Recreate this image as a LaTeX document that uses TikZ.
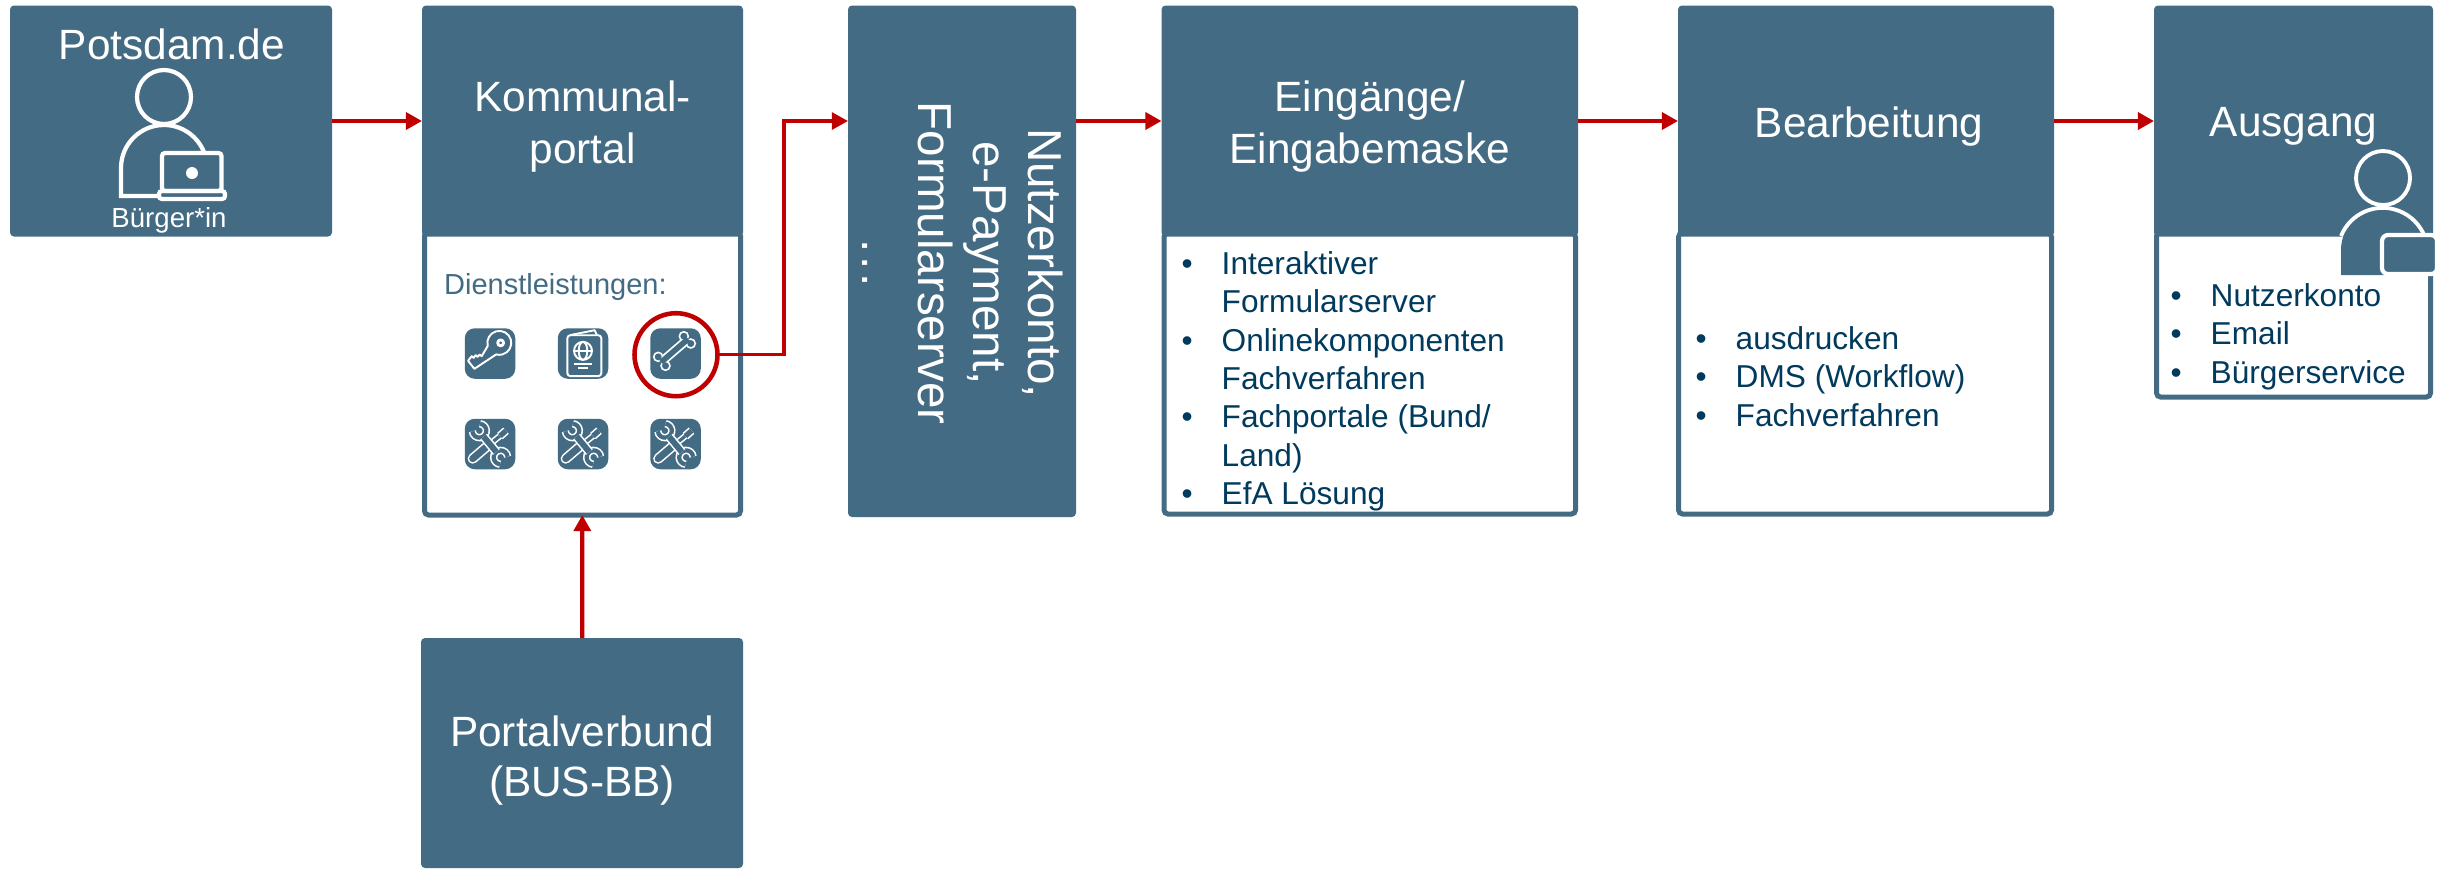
\documentclass[tikz,border=0pt]{standalone}
\usepackage{fontspec}
\setmainfont{Liberation Sans}
\usetikzlibrary{arrows.meta}
\definecolor{boxblue}{HTML}{446B84}
\definecolor{listblue}{HTML}{003A5D}
\definecolor{arrowred}{HTML}{C00000}
\newcommand{\headfont}{\fontsize{12.05}{14.8}\selectfont}
\newcommand{\sidefont}{\fontsize{13.55}{15.75}\selectfont}
\newcommand{\listfont}{\fontsize{9}{10.9}\selectfont}
\newcommand{\li}[1]{\makebox[.40cm][l]{\textbullet}#1\\}
\newcommand{\lic}[1]{\hspace*{.40cm}#1\\}
\begin{document}
\begin{tikzpicture}
        \tikzset{
            head/.style={fill=boxblue, rounded corners=.4mm,
              anchor=north west, inner sep=0pt, outer sep=0pt},
            headtext/.style={text=white, font=\headfont, align=center, inner sep=0pt, yshift=-.055cm},
            body/.style={draw=boxblue, fill=white, line width=1.42pt, rounded corners=.4mm,
              anchor=north west, inner sep=0pt, outer sep=0pt},
            list/.style={text=listblue, font=\listfont, align=left, anchor=north west, inner sep=0pt},
            whitetext/.style={text=white, anchor=base, inner sep=0pt},
            flow/.style={draw=arrowred, line width=1.2pt, -{Triangle[length=4.6pt,width=4.8pt]}},
            iconbox/.style={fill=boxblue, rounded corners=1mm, minimum size=.505cm, inner sep=0pt},
            person/.style={draw=white, line width=1.2pt},
            iconline/.style={draw=white, line width=.55pt, line join=round},
            pics/keyicon/.style={code={
              \draw[iconline] (-6.8,22.7) arc (195:-105:36) -- (-47,-46) -- (-66,-22) -- (-55,-8)
                -- (-49,-13) -- (-43,-5) -- (-37,-10) -- (-31,-3) -- (-25,-8) -- cycle;
              \draw[iconline, line width=.8pt] (32,32) circle (9);
            }},
            pics/passicon/.style={code={
              \draw[iconline, rounded corners=.3mm] (-47,55) rectangle (55,-68);
              \draw[iconline] (-40,55) -- (35,70) -- (42,55);
              \draw[iconline] (0,8) circle (27);
              \draw[iconline] (0,8) ellipse (13 and 27);
              \draw[iconline] (-27,8) -- (27,8);
              \draw[iconline] (-28,-32) -- (28,-32);
              \draw[iconline] (-15,-43) -- (15,-43);
            }},
            pics/boneicon/.style={code={
              \foreach \kx/\ky in {25/52,46/30,-52/-10,-30/-37}
                \fill[white] (\kx,\ky) circle (16);
              \draw[white, line width=2.6pt] (35,41) -- (-40,-23);
              \foreach \kx/\ky in {25/52,46/30,-52/-10,-30/-37}
                \fill[boxblue] (\kx,\ky) circle (10.5);
              \draw[boxblue, line width=1.6pt] (38,44) -- (-43,-26);
            }},
            pics/toolicon/.style={code={
              \begin{scope}[draw=white, line width=.45pt, double=boxblue]
              \draw[double distance=2pt, line cap=round] (-52,-44) -- (-10,-8);
              \draw[double distance=.9pt] (-10,-8) -- (32,26);
              \draw[double distance=1.5pt] (30,24) -- (48,40);
              \draw[double distance=1.2pt] (-32,40) ++(185:21) arc (185:445:21);
              \draw[double distance=1.2pt] (32,-40) ++(5:21) arc (5:265:21);
              \draw[double distance=1.7pt] (-19,22) -- (19,-24);
              \end{scope}
            }},
          }

        % Potsdam
        \node[head, minimum width=3.22cm, minimum height=2.31cm] (potsdam) at (.10,-.055) {};
        \node[whitetext, font=\headfont] (potsdamtext) at (1.72,-.595) {Potsdam.de};
        \draw[person] (1.64,-.97) circle (.27);
        \draw[person] (1.59,-1.96) -- (1.21,-1.96) -- (1.21,-1.68) arc (180:20:.43);
        \draw[person, rounded corners=.3mm] (1.62,-1.91) rectangle (2.215,-1.53);
        \draw[person, rounded corners=.3mm] (1.59,-1.91) rectangle (2.25,-1.99);
        \fill[white] (1.92,-1.73) circle (.06);
        \node[whitetext, font=\fontsize{7.85}{9}\selectfont] (buerger) at (1.69,-2.27) {Bürger*in};

        % Kommunalportal
        \node[body, minimum width=3.16cm, minimum height=2.83cm] (kommbody) at (4.245,-2.32) {};
        \node[head, minimum width=3.21cm, minimum height=2.31cm] (komm) at (4.22,-.055) {};
        \node[headtext] (kommtext) at (komm) {Kommunal-\\portal};
        \node[anchor=base west, inner sep=0pt, text=boxblue, font=\fontsize{8.25}{10}\selectfont] (dienst) at (4.435,-2.94) {Dienstleistungen:};
        \node[iconbox] (key) at (4.90,-3.535) {};
        \node[iconbox] (pass) at (5.83,-3.535) {};
        \node[iconbox] (bone) at (6.755,-3.535) {};
        \pic[scale=.00333] at (key.center) {keyicon};
        \pic[scale=.00333] at (pass.center) {passicon};
        \pic[scale=.00333] at (bone.center) {boneicon};
        \foreach \toolname/\toolx in {toola/4.90,toolb/5.83,toolc/6.755} {
            \node[iconbox] (\toolname) at (\toolx,-4.44) {};
            \pic[scale=.00333] at (\toolname.center) {toolicon};
        }
        \node[draw=arrowred, line width=1.3pt, circle, minimum size=.83cm, inner sep=0pt, outer sep=0pt] (ring) at (6.76,-3.547) {};

        % Portalverbund
        \node[head, minimum width=3.22cm, minimum height=2.30cm] (portal) at (4.21,-6.38) {};
        \node[whitetext, font=\headfont] (portaltext) at (5.82,-7.46) {Portalverbund};
        \node[whitetext, font=\headfont] (portaltextb) at (5.82,-7.96) {(BUS-BB)};

        % Nutzerkonto
        \node[head, minimum width=2.28cm, minimum height=5.115cm] (form) at (8.48,-.055) {};
        \node[rotate=-90, text=white, font=\sidefont, align=center, inner sep=0pt] (formtext) at (9.63,-2.63)
            {Nutzerkonto,\\e-Payment,\\Formularserver\\.\kern.08em.\kern.08em.};

        % Eingaenge
        \node[body, minimum width=4.115cm, minimum height=2.81cm] (eingbody) at (11.64,-2.33) {};
        \node[head, minimum width=4.165cm, minimum height=2.31cm] (eing) at (11.615,-.055) {};
        \node[headtext] (eingtext) at (eing) {Eingänge/\\Eingabemaske};
        \node[list] (einglist) at (11.81,-2.51) {\li{Interaktiver}\lic{Formularserver}\li{Onlinekomponenten}\lic{Fachverfahren}\li{Fachportale (Bund/}\lic{Land)}\li{EfA Lösung}};

        % Bearbeitung
        \node[body, minimum width=3.73cm, minimum height=2.81cm] (bearbbody) at (16.785,-2.33) {};
        \node[head, minimum width=3.76cm, minimum height=2.31cm] (bearb) at (16.78,-.055) {};
        \node[headtext, xshift=.03cm] (bearbtext) at (bearb) {Bearbeitung};
        \node[list] (bearblist) at (16.95,-3.26) {\li{ausdrucken}\li{DMS (Workflow)}\li{Fachverfahren}};

        % Ausgang
        \node[body, minimum width=2.74cm, minimum height=1.65cm] (ausbody) at (21.565,-2.32) {};
        \node[head, minimum width=2.79cm, minimum height=2.31cm] (aus) at (21.54,-.055) {};
        \node[headtext] (austext) at (aus) {Ausgang};
        \draw[person, line width=1.1pt] (23.83,-1.78) circle (.27);
        \fill[boxblue] (23.41,-2.75) -- (23.41,-2.5) arc (180:0:.43) -- (24.27,-2.75) -- cycle;
        \draw[person, line width=1.1pt] (23.41,-2.36) arc (158:22:.45);
        \draw[person, fill=boxblue, rounded corners=.6mm] (23.82,-2.35) rectangle (24.37,-2.74);
        \node[list] (auslist) at (21.70,-2.83) {\li{Nutzerkonto}\li{Email}\li{Bürgerservice}};

        % Pfeile
        \coordinate (knick) at (7.84,-1.21);
        \draw[flow] (potsdam) -- (komm);
        \draw[flow] (portal) -- (kommbody);
        \draw[flow, line width=1pt] (ring.east) -| (knick) -- (form.west |- knick);
        \draw[flow] (form.east |- eing.west) -- (eing.west);
        \draw[flow] (eing) -- (bearb);
        \draw[flow] (bearb) -- (aus);

        \useasboundingbox (0,0) rectangle (24.43,-8.68);
    \end{tikzpicture}
\end{document}
